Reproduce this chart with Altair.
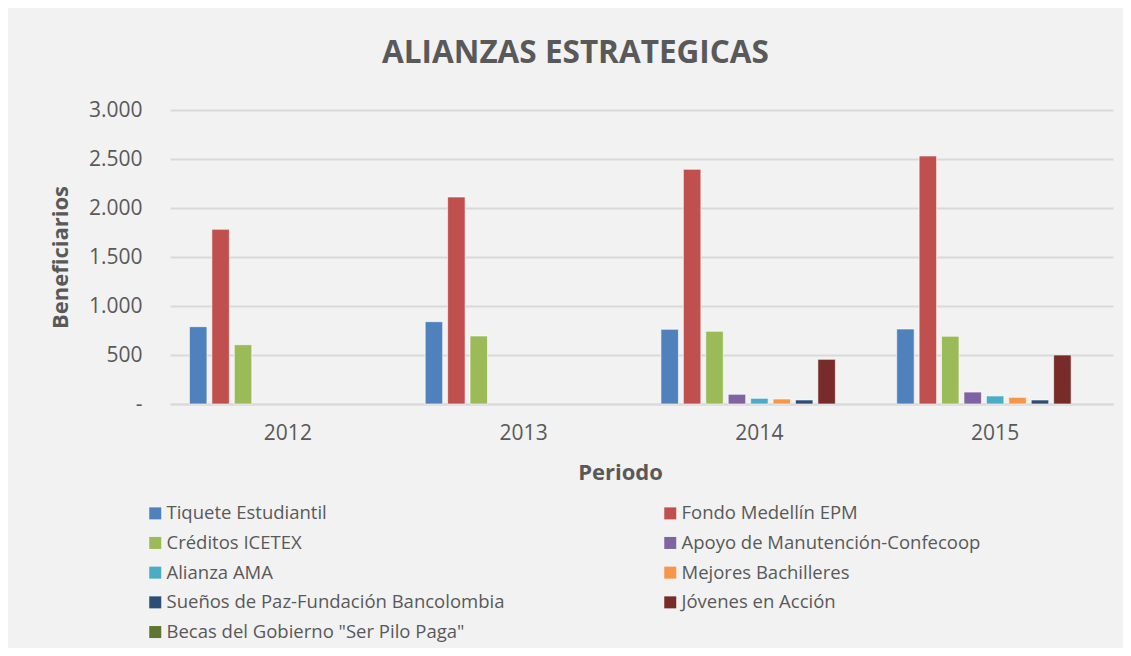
import altair as alt
import pandas as pd

years = ["2012", "2013", "2014", "2015"]
series = [
    "Tiquete Estudiantil",
    "Fondo Medellín EPM",
    "Créditos ICETEX",
    "Apoyo de Manutención-Confecoop",
    "Alianza AMA",
    "Mejores Bachilleres",
    "Sueños de Paz-Fundación Bancolombia",
    "Jóvenes en Acción",
    'Becas del Gobierno "Ser Pilo Paga"',
]
colors = ["#4F81BD", "#C0504D", "#9BBB59", "#8064A2", "#4BACC6",
          "#F79646", "#2C4D75", "#772C2A", "#5F7530"]

tiquete = [789, 840, 762, 765]
fondo = [1783, 2112, 2395, 2531]
creditos = [605, 694, 742, 691]
apoyo = [None, None, 99, 122]
alianza = [None, None, 58, 82]
mejores = [None, None, 51, 68]
suenos = [None, None, 41, 41]
jovenes = [None, None, 456, 500]
becas = [None, None, None, None]

values = [tiquete, fondo, creditos, apoyo, alianza, mejores, suenos, jovenes, becas]
rows = []
for s, vals in zip(series, values):
    for y, v in zip(years, vals):
        rows.append({"Periodo": y, "Programa": s, "Beneficiarios": v})
df = pd.DataFrame(rows)

FONT = "Open Sans"
GRAY = "#595959"

chart = alt.Chart(df).mark_bar(
    stroke="white", strokeWidth=1, strokeOpacity=0.6
).encode(
    x=alt.X("Periodo:N", sort=years,
            scale=alt.Scale(paddingInner=0.144, paddingOuter=0.072),
            axis=alt.Axis(title="Periodo", labelAngle=0, ticks=False,
                          domainColor="#d9d9d9", domainWidth=2,
                          labelFontSize=21, labelColor=GRAY, labelFont=FONT,
                          labelPadding=18,
                          titleFontSize=22, titleFont=FONT, titleColor=GRAY,
                          titleFontWeight="bold",
                          titleX=450, titleY=68, titleBaseline="middle")),
    xOffset=alt.XOffset("Programa:N", sort=series,
                        scale=alt.Scale(domain=series, paddingInner=0.22, paddingOuter=0.11)),
    y=alt.Y("Beneficiarios:Q",
            scale=alt.Scale(domain=[0, 3000]),
            axis=alt.Axis(title="Beneficiarios", values=[0, 500, 1000, 1500, 2000, 2500, 3000],
                          labelExpr="datum.value == 0 ? '-\u00a0\u00a0\u00a0' : replace(format(datum.value, ','), ',', '.')",
                          ticks=False, domain=False, grid=True,
                          gridColor="#d9d9d9", gridWidth=2,
                          labelFontSize=21, labelColor=GRAY, labelFont=FONT,
                          labelPadding=28,
                          titleFontSize=22, titleFont=FONT, titleColor=GRAY,
                          titleFontWeight="bold", titleAngle=-90,
                          titleX=-110, titleY=147, titleAlign="center",
                          titleBaseline="middle")),
    color=alt.Color("Programa:N", sort=series,
                    scale=alt.Scale(domain=series, range=colors),
                    legend=alt.Legend(title=None, orient="none", legendX=-24, legendY=394,
                                      columns=2, columnPadding=156, rowPadding=10.7,
                                      symbolType="square", symbolSize=144,
                                      symbolStrokeWidth=0, labelFontSize=18.5,
                                      labelColor=GRAY, labelFont=FONT, labelOffset=2,
                                      labelLimit=0,
                                      direction="horizontal")),
).properties(
    width=943, height=294,
    title=alt.TitleParams("ALIANZAS ESTRATEGICAS", fontSize=31.5, font=FONT,
                          fontWeight="bold", color=GRAY, anchor="middle",
                          dx=-66, offset=30),
    padding={"left": 162, "top": 102, "right": 10, "bottom": 244},
    autosize=alt.AutoSizeParams(type="none"),
).configure(background="#f2f2f2").configure_view(stroke=None)

chart.save("out.html", embed_options={"renderer": "svg", "actions": False})
